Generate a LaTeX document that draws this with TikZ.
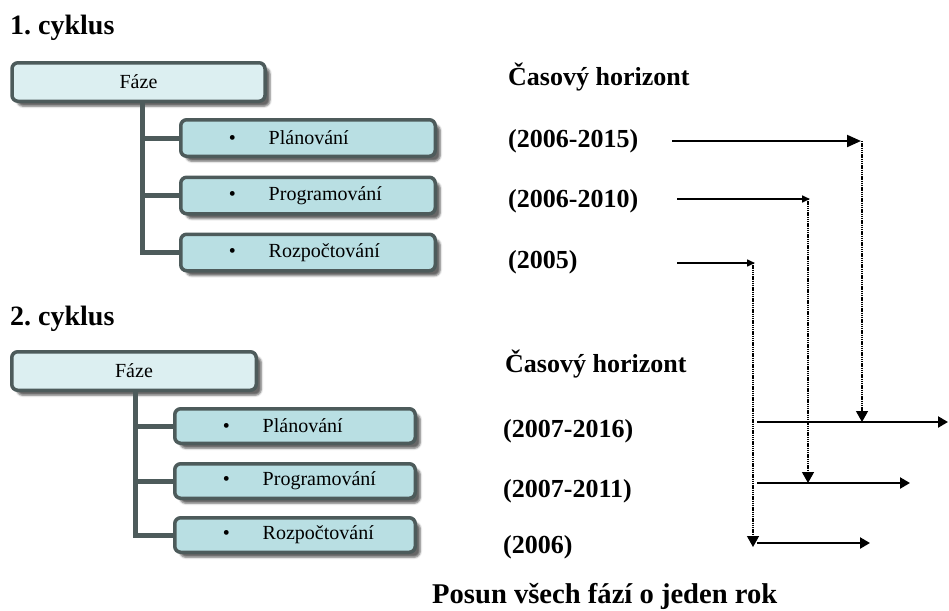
\documentclass[tikz,border=0pt]{standalone}
\usepackage{fontspec}
\setmainfont{Liberation Serif}
\usetikzlibrary{arrows.meta,shadows.blur}
\frenchspacing

\definecolor{boxline}{HTML}{4D5B5B}
\definecolor{fazefill}{HTML}{DCEFF1}
\definecolor{subfill}{HTML}{B9DFE3}

\tikzset{
  phasebox/.style={draw=boxline, line width=3.5pt, rounded corners=6pt,
    inner sep=0pt, font=\fontsize{20pt}{24pt}\selectfont,
    blur shadow={shadow xshift=5pt, shadow yshift=-5pt,
      shadow blur radius=2pt, shadow opacity=60}},
  fazebox/.style={phasebox, fill=fazefill, minimum height=38.5pt},
  subbox/.style={phasebox, fill=subfill, align=left},
  trunk/.style={draw=boxline, line width=5pt},
  heading/.style={anchor=base west, inner sep=0pt,
    font=\fontsize{28pt}{32pt}\selectfont\bfseries},
  label/.style={anchor=base west, inner sep=0pt,
    font=\fontsize{26pt}{30pt}\selectfont\bfseries},
  timeline/.style={line width=2.2pt, -{Triangle[length=10pt,width=11pt]}},
  shiftline/.style={line width=1.3pt, dash pattern=on 1.3pt off 0.9pt,
    -{Triangle[length=11pt,width=12pt]}},
}

\newcommand{\bul}[1]{\hspace*{48pt}\textbullet\hspace*{33pt}#1}

\begin{document}
\begin{tikzpicture}[x=1pt, y=-1pt]

  \useasboundingbox (0,0) rectangle (949,610); %

  % First cycle
  \node[heading] (cyk1) at (10,35) {1. cyklus} ; %
  \node[fazebox, minimum width=253pt] (faze1) at (138.5,82) {Fáze} ; %
  \node[subbox, text width=254.5pt, minimum height=36.5pt] (plan1) at (308,138) {\bul{Plánování}} ; %
  \node[subbox, text width=254.5pt, minimum height=36.5pt] (prog1) at (308,195.5) {\bul{Programování}} ; %
  \node[subbox, text width=254.5pt, minimum height=36.5pt] (rozp1) at (308,252.5) {\bul{Rozpočtování}} ; %

  % Second cycle
  \node[heading] (cyk2) at (10,325) {2. cyklus} ; %
  \node[fazebox, minimum width=244.5pt] (faze2) at (134,371) {Fáze} ; %
  \node[subbox, text width=240.5pt, minimum height=34.5pt] (plan2) at (295,426) {\bul{Plánování}} ; %
  \node[subbox, text width=240.5pt, minimum height=34.5pt] (prog2) at (295,481) {\bul{Programování}} ; %
  \node[subbox, text width=240.5pt, minimum height=34.5pt] (rozp2) at (295,535) {\bul{Rozpočtování}} ; %

  % Trunks
  \coordinate (trunk1) at (142,0) ; %
  \coordinate (trunk2) at (135,0) ; %
  \draw[trunk] (faze1.south -| trunk1) |- (rozp1.west) ; %
  \draw[trunk] (trunk1 |- plan1.west) -- (plan1.west) ; %
  \draw[trunk] (trunk1 |- prog1.west) -- (prog1.west) ; %
  \draw[trunk] (faze2.south -| trunk2) |- (rozp2.west) ; %
  \draw[trunk] (trunk2 |- plan2.west) -- (plan2.west) ; %
  \draw[trunk] (trunk2 |- prog2.west) -- (prog2.west) ; %

  % Time horizons
  \node[label] (hor1) at (508,85)  {Časový horizont} ; %
  \node[label] (y1p)  at (508,147) {(2006-2015)} ; %
  \node[label] (y1g)  at (508,207) {(2006-2010)} ; %
  \node[label] (y1r)  at (508,268) {(2005)} ; %
  \node[label] (hor2) at (505,372) {Časový horizont} ; %
  \node[label] (y2p)  at (503,437) {(2007-2016)} ; %
  \node[label] (y2g)  at (503,497) {(2007-2011)} ; %
  \node[label] (y2r)  at (503,553) {(2006)} ; %
  \node[heading, font=\fontsize{28.6pt}{32pt}\selectfont\bfseries] (posun) at (432,603)
  {Posun všech fází o jeden rok} ; %

  % Arrow ends
  \coordinate (p1s) at (672,141) ; \coordinate (p1e) at (861,141) ; %
  \coordinate (g1s) at (677,199) ; \coordinate (g1e) at (810,199) ; %
  \coordinate (r1s) at (677,263) ; \coordinate (r1e) at (755,263) ; %
  \coordinate (p2s) at (757,422) ; \coordinate (p2e) at (948,422) ; %
  \coordinate (g2s) at (757,483) ; \coordinate (g2e) at (910,483) ; %
  \coordinate (r2s) at (757,543) ; \coordinate (r2e) at (870,543) ; %

  % Horizons
  \draw[timeline, line width=2pt, -{Triangle[length=14pt,width=12pt]}] (p1s) -- (p1e) ; %
  \draw[timeline, line width=1.6pt, -{Triangle[length=8pt,width=7pt]}] (g1s) -- (g1e) ; %
  \draw[timeline, line width=1.5pt, -{Triangle[length=8pt,width=7pt]}] (r1s) -- (r1e) ; %
  \draw[timeline] (p2s) -- (p2e) ; %
  \draw[timeline] (g2s) -- (g2e) ; %
  \draw[timeline] (r2s) -- (r2e) ; %

  % Shifts
  \draw[shiftline] ([xshift=1pt]p1e) -- ([xshift=1pt]p1e |- p2s) ; %
  \draw[shiftline] ([xshift=-2pt]g1e) -- ([xshift=-2pt]g1e |- g2s) ; %
  \draw[shiftline] ([xshift=-2pt]r1e) -- ([xshift=-2pt,yshift=-4pt]r1e |- r2s) ; %

\end{tikzpicture}
\end{document}
